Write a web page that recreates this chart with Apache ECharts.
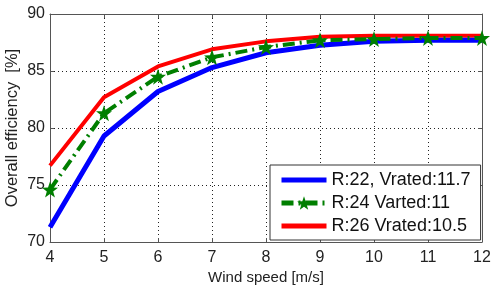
<!DOCTYPE html>
<html><head><meta charset="utf-8">
<script src="https://cdn.jsdelivr.net/npm/echarts@6/dist/echarts.min.js"></script>
<style>html,body{margin:0;padding:0;background:#fff}#c{width:501px;height:297px}</style>
</head><body><div id="c"></div>
<script>
var windSpeed = [4, 5, 6, 7, 8, 9, 10, 11, 12];
var r22 = [71.3, 79.3, 83.2, 85.3, 86.6, 87.25, 87.6, 87.7, 87.7];
var r24 = [74.6, 81.3, 84.5, 86.2, 87.1, 87.7, 87.8, 87.9, 87.9];
var r26 = [76.7, 82.7, 85.4, 86.9, 87.6, 88.0, 88.1, 88.1, 88.1];
var seriesNames = ['R:22, Vrated:11.7', 'R:24 Varted:11', 'R:26 Vrated:10.5'];
var yTicks = [70, 75, 80, 85, 90];

var star = 'path://M50,0 L61.8,33.8 L97.6,34.5 L69,56.2 L79.4,90.5 L50,70 L20.6,90.5 L31,56.2 L2.4,34.5 L38.2,33.8Z';
var font = 'Liberation Sans';
function pairs(arr){ return windSpeed.map(function(x,i){ return [x, arr[i]]; }); }

var chart = echarts.init(document.getElementById('c'), null, {renderer:'canvas'});
var axisLine = {show:true, lineStyle:{color:'#555', width:1}};
chart.setOption({
  animation:false,
  backgroundColor:'#fff',
  textStyle:{fontFamily:font},
  grid:{left:50, right:19, top:14, bottom:55, containLabel:false, outerBoundsMode:'none'},
  xAxis:[{
    type:'value', min:4, max:12, interval:1,
    name:'Wind speed [m/s]', nameLocation:'middle', nameGap:28, nameMoveOverlap:false,
    nameTextStyle:{fontFamily:font, fontSize:15, color:'#222'},
    axisLine:axisLine,
    axisTick:{show:true, inside:true, length:4, lineStyle:{color:'#555'}},
    axisLabel:{fontFamily:font, fontSize:16, color:'#222', margin:8},
    splitLine:{show:true, lineStyle:{color:'#222', type:[1,3], width:1}}
  },{
    type:'value', min:4, max:12, interval:1, position:'top',
    axisLine:axisLine,
    axisTick:{show:true, inside:true, length:4, lineStyle:{color:'#555'}},
    axisLabel:{show:false}, splitLine:{show:false}
  }],
  yAxis:[{
    type:'value', min:70, max:90, interval:5,
    name:'Overall efficiency  [%]', nameLocation:'middle', nameGap:29, nameMoveOverlap:false,
    nameTextStyle:{fontFamily:font, fontSize:16.5, color:'#222'},
    axisLine:axisLine,
    axisTick:{show:true, inside:true, length:4, lineStyle:{color:'#555'}},
    axisLabel:{fontFamily:font, fontSize:16, color:'#222', margin:5,
      formatter:function(v){ return yTicks.indexOf(v) >= 0 ? String(v) : ''; }},
    splitLine:{show:true, lineStyle:{color:'#222', type:[1,3], width:1}}
  },{
    type:'value', min:70, max:90, interval:5, position:'right',
    axisLine:axisLine,
    axisTick:{show:true, inside:true, length:4, lineStyle:{color:'#555'}},
    axisLabel:{show:false}, splitLine:{show:false}
  }],
  legend:{
    orient:'vertical', left:270, top:165,
    backgroundColor:'#fff', borderColor:'#333', borderWidth:1,
    padding:[6, 10, 5, 9], itemWidth:45, itemHeight:17, itemGap:5,
    textStyle:{fontFamily:font, fontSize:18, color:'#111'},
    data:[
      {name:seriesNames[0], itemStyle:{opacity:0}, lineStyle:{width:5}},
      {name:seriesNames[1], lineStyle:{width:5}},
      {name:seriesNames[2], itemStyle:{opacity:0}, lineStyle:{width:5}}
    ]
  },
  series:[{
    name:seriesNames[0], type:'line', data:pairs(r22), symbol:'none',
    lineStyle:{color:'#0000ff', width:5}, itemStyle:{color:'#0000ff'}, z:3
  },{
    name:seriesNames[1], type:'line', data:pairs(r24), symbol:star, symbolSize:16,
    lineStyle:{color:'#007f00', width:4, type:[12,5,2,5]}, itemStyle:{color:'#007f00'}, z:4
  },{
    name:seriesNames[2], type:'line', data:pairs(r26), symbol:'none',
    lineStyle:{color:'#ff0000', width:4}, itemStyle:{color:'#ff0000'}, z:2
  }]
});
</script></body></html>
